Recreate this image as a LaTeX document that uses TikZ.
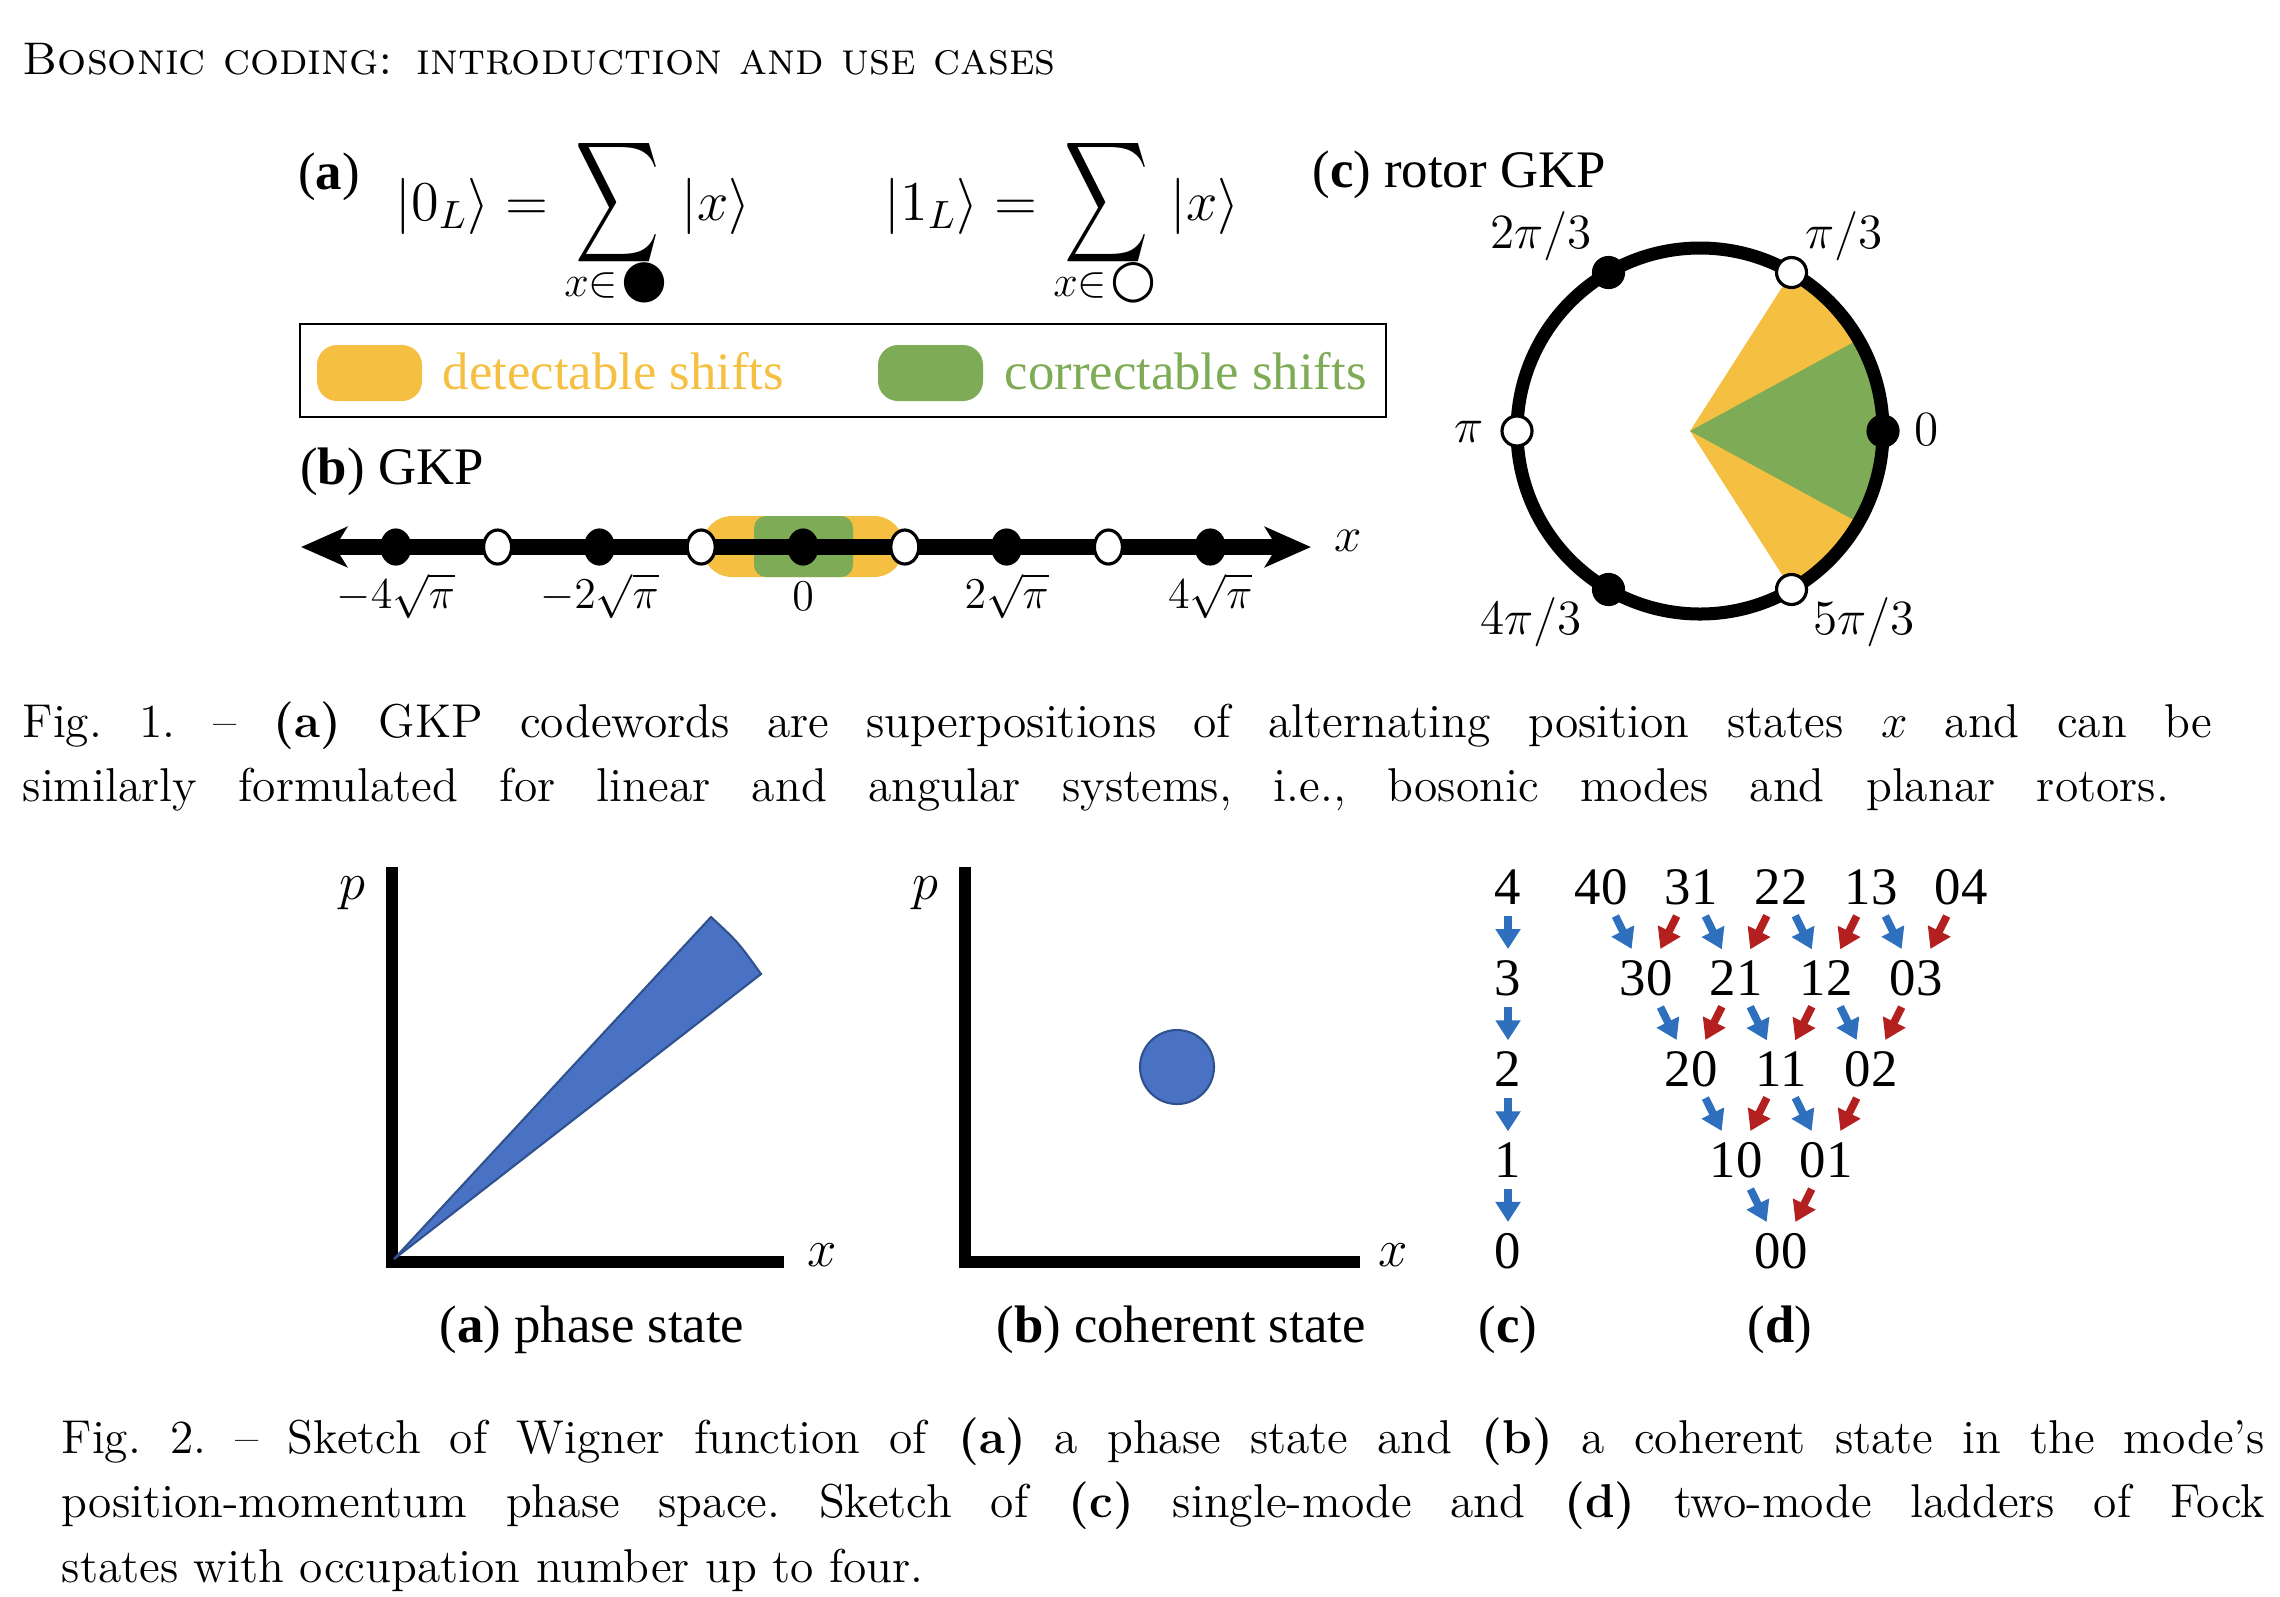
\RequirePackage{fix-cm}
\documentclass[tikz,border=0pt]{standalone}
\usepackage{amsmath}
\usepackage{fontspec}
\usepackage{graphicx}
\usetikzlibrary{arrows.meta,positioning}

\newfontfamily\figfont{Liberation Serif}
\newfontfamily\symfont{DejaVu Sans}

\definecolor{shiftyellow}{RGB}{245,192,66}
\definecolor{shiftgreen}{RGB}{126,171,85}
\definecolor{wignerblue}{RGB}{74,114,196}
\definecolor{wignerline}{RGB}{47,82,143}
\definecolor{firstblue}{RGB}{46,112,190}
\definecolor{secondred}{RGB}{180,32,32}

\tikzset{
  figtext/.style={font=\figfont\fontsize{15}{18}\selectfont, inner sep=0pt},
  captext/.style={font=\fontsize{13.5}{18}\selectfont\frenchspacing, inner sep=0pt, anchor=base west},
  ketmath/.style={font=\fontsize{16}{19}\selectfont, inner sep=0pt},
  ticklabel/.style={font=\fontsize{12.5}{15}\selectfont, inner sep=0pt},
  anglelabel/.style={font=\fontsize{14}{17}\selectfont, inner sep=0pt},
  fockstate/.style={font=\figfont\fontsize{15}{18}\selectfont, inner sep=3pt},
  lowerfirst/.style={firstblue, line width=2.2pt, -{Triangle[length=0.2cm,width=0.24cm]}},
  lowersecond/.style={secondred, line width=2.2pt, -{Triangle[length=0.2cm,width=0.24cm]}},
  fulldot/.style={fill=black, draw=black, line width=0.9pt},
  emptydot/.style={fill=white, draw=black, line width=0.9pt},
  axisline/.style={line width=3.4pt, line join=miter},
}

\begin{document}
\begin{tikzpicture}[x=0.01cm, y=-0.01cm]
\useasboundingbox (0,0) rectangle (2280,1596);

% header
\node[captext, font=\fontsize{13}{18}\selectfont] (header) at (22,74) {\textsc{Bosonic coding: introduction and use cases}};

% ---------- Fig. 1 (a) codewords
\node[figtext] (labela) at (329,177) {({\bfseries a})};
\node[ketmath, anchor=base] (ketzero) at (472,220) {$|0_L\rangle =$};
\node[ketmath] (sumzero) at (618,203) {\scalebox{0.96}[1.39]{$\displaystyle\sum$}};
\node[ketmath, font=\fontsize{12.5}{15}\selectfont] (setzero) at (616,283) {$x{\in}$\kern1pt{\symfont\fontsize{15}{15}\selectfont ●}};
\node[ketmath, anchor=base] (xzero) at (716,220) {$|x\rangle$};
\node[ketmath, anchor=base] (ketone) at (961,220) {$|1_L\rangle =$};
\node[ketmath] (sumone) at (1107,203) {\scalebox{0.96}[1.39]{$\displaystyle\sum$}};
\node[ketmath, font=\fontsize{12.5}{15}\selectfont] (setone) at (1105,283) {$x{\in}$\kern1pt{\symfont\fontsize{15}{15}\selectfont ○}};
\node[ketmath, anchor=base] (xone) at (1205,220) {$|x\rangle$};

% legend
\draw[line width=0.75pt] (300,324) rectangle (1386,417);
\fill[shiftyellow, rounded corners=0.2cm] (317,345) rectangle (422,401);
\node[figtext, anchor=west, text=shiftyellow] (detect) at (442,371) {detectable shifts};
\fill[shiftgreen, rounded corners=0.2cm] (878,345) rectangle (983,401);
\node[figtext, anchor=west, text=shiftgreen] (correct) at (1004,371) {correctable shifts};

% ---------- Fig. 1 (b) GKP line
\node[figtext] (labelb) at (392,472) {({\bfseries b}) GKP};
\fill[shiftyellow, rounded corners=0.3cm] (702,516) rectangle (904,577);
\fill[shiftgreen, rounded corners=0.12cm] (754,516) rectangle (853,577);
\draw[line width=4.3pt, {Stealth[length=0.46cm,width=0.4cm,inset=0.12cm]}-{Stealth[length=0.46cm,width=0.4cm,inset=0.12cm]}] (301,547) -- (1311,547);
\foreach \k in {-4,-2,...,4}
  \filldraw[fulldot] ({803+101.8*\k},547) ellipse[x radius=14, y radius=17];
\foreach \k in {-3,-1,1,3}
  \filldraw[emptydot] ({803+101.8*\k},547) ellipse[x radius=14, y radius=17];
\foreach \k/\lab in {-4/-4\sqrt{\pi}, -2/-2\sqrt{\pi}, 0/0, 2/2\sqrt{\pi}, 4/4\sqrt{\pi}}
  \node[ticklabel] (tick\k) at ({803+101.8*\k},596) {$\lab$};
\node[anglelabel] (xaxis) at (1348,541) {$x$};

% ---------- Fig. 1 (c) rotor GKP
\node[figtext] (labelc) at (1459,175) {({\bfseries c}) rotor GKP};
\fill[shiftyellow] (1690,431) -- ([shift={(1700,431)}]60:183) arc[start angle=60, end angle=-60, radius=183] -- cycle;
\fill[shiftgreen] (1690,431) -- ([shift={(1700,431)}]30:183) arc[start angle=30, end angle=-30, radius=183] -- cycle;
\draw[line width=3.7pt] (1700,431) circle[radius=183];
\foreach \a in {0,120,240}
  \filldraw[fulldot] ([shift={(1700,431)}]\a:183) circle[radius=15];
\foreach \a in {60,180,300}
  \filldraw[emptydot] ([shift={(1700,431)}]\a:183) circle[radius=15];
\node[anglelabel] (ang0) at (1927,430) {$0$};
\node[anglelabel] (ang1) at (1844,236) {$\pi/3$};
\node[anglelabel] (ang2) at (1541,236) {$2\pi/3$};
\node[anglelabel] (ang3) at (1469,432) {$\pi$};
\node[anglelabel] (ang4) at (1531,622) {$4\pi/3$};
\node[anglelabel] (ang5) at (1864,622) {$5\pi/3$};

% caption 1
\node[captext] (capAa) at (22,737) {\makebox[21.88cm][s]{Fig. 1. -- \textbf{(a)} GKP codewords are superpositions of alternating position states $x$ and can be}};
\node[captext] (capAb) at (22,801) {\makebox[21.45cm][s]{similarly formulated for linear and angular systems, i.e., bosonic modes and planar rotors.}};

% ---------- Fig. 2 (a) phase state
\draw[axisline] (392,867) -- (392,1262) -- (784,1262);
\filldraw[fill=wignerblue, draw=wignerline, line width=0.6pt] (394,1259) -- (711,917) .. controls (738,942) .. (761,974) -- cycle;
\node[anglelabel, font=\fontsize{15}{18}\selectfont] (pa) at (352,893) {$p$};
\node[anglelabel, font=\fontsize{15}{18}\selectfont] (xa) at (822,1255) {$x$};
\node[figtext] (labelwa) at (592,1330) {({\bfseries a}) phase state};

% ---------- Fig. 2 (b) coherent state
\draw[axisline] (965,867) -- (965,1262) -- (1360,1262);
\filldraw[fill=wignerblue, draw=wignerline, line width=0.6pt] (1177,1067) circle[radius=37];
\node[anglelabel, font=\fontsize{15}{18}\selectfont] (pb) at (925,893) {$p$};
\node[anglelabel, font=\fontsize{15}{18}\selectfont] (xb) at (1393,1255) {$x$};
\node[figtext] (labelwb) at (1181,1330) {({\bfseries b}) coherent state};

% ---------- Fig. 2 (c) single-mode ladder
\foreach \k in {0,...,4}
  \node[fockstate] (s\k) at (1508,{887+91*(4-\k)}) {\k};
\foreach \k [evaluate=\k as \km using int(\k-1)] in {1,...,4}
  \draw[lowerfirst] (s\k) -- (s\km);
\node[figtext] (labelwc) at (1508,1330) {({\bfseries c})};

% ---------- Fig. 2 (d) two-mode ladder
\foreach \r in {0,...,4} {
  \pgfmathtruncatemacro{\N}{4-\r}
  \foreach \b in {0,...,\N} {
    \pgfmathtruncatemacro{\na}{\N-\b}
    \node[fockstate] (n\na\b) at ({1781+(\b-\N/2)*90},{887+91*\r}) {\na\b};
  }
}
\foreach \N in {1,...,4} {
  \foreach \b in {0,...,\N} {
    \pgfmathtruncatemacro{\na}{\N-\b}
    \pgfmathtruncatemacro{\nam}{\na-1}
    \pgfmathtruncatemacro{\nbm}{\b-1}
    \ifnum\na>0 \draw[lowerfirst] (n\na\b) -- (n\nam\b); \fi
    \ifnum\b>0 \draw[lowersecond] (n\na\b) -- (n\na\nbm); \fi
  }
}
\node[figtext] (labelwd) at (1780,1330) {({\bfseries d})};

% caption 2
\node[captext] (capBa) at (61,1453) {\makebox[22.02cm][s]{Fig. 2. -- Sketch of Wigner function of \textbf{(a)} a phase state and \textbf{(b)} a coherent state in the mode's}};
\node[captext] (capBb) at (61,1517) {\makebox[22.02cm][s]{position-momentum phase space. Sketch of \textbf{(c)} single-mode and \textbf{(d)} two-mode ladders of Fock}};
\node[captext] (capBc) at (61,1582) {states with occupation number up to four.};
\end{tikzpicture}
\end{document}
